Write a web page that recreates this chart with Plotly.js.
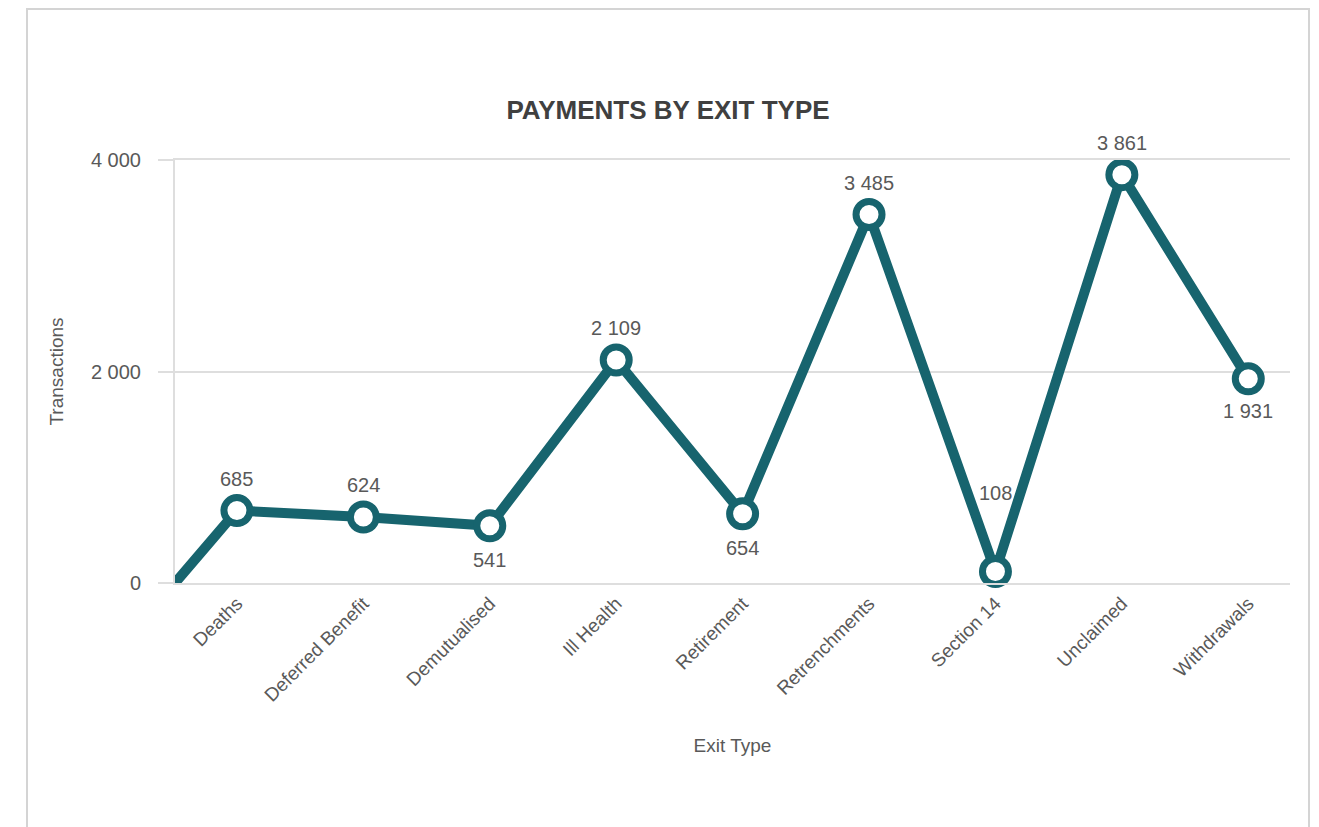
<!DOCTYPE html>
<html>
<head>
<meta charset="utf-8">
<script src="https://cdn.plot.ly/plotly-3.0.1.min.js"></script>
<style>
  html, body { margin: 0; padding: 0; background: #fff; overflow: hidden; }
  #frame { position: absolute; left: 26px; top: 8px; width: 1284px; height: 900px; border: 2px solid #d4d4d4; box-sizing: border-box; }
  #chart { position: absolute; left: 0; top: 0; width: 1319px; height: 827px; }
</style>
</head>
<body>
<div id="frame"></div>
<div id="chart"></div>
<script>
// ---- data ----
const categories = ["Deaths", "Deferred Benefit", "Demutualised", "Ill Health", "Retirement",
                    "Retrenchments", "Section 14", "Unclaimed", "Withdrawals"];
const transactions = [685, 624, 541, 2109, 654, 3485, 108, 3861, 1931];
const yTickValues = [0, 2000, 4000];
const chartTitle = "PAYMENTS BY EXIT TYPE";
const xTitle = "Exit Type";
const yTitle = "Transactions";

// ---- styles ----
const teal = "#17646e";
const labelShift = [32, 32, -34, 32, -34, 31, 79, 32, -32];
const xStart = -0.49, xEnd = 8.33;
const fontFam = "'Liberation Sans', Arial, sans-serif";
const textColor = "#595959";

const idx = categories.map((_, i) => i);
// line begins at the axis origin, as in the reference
const lineX = [xStart].concat(idx);
const lineY = [0].concat(transactions);

const traces = [
  {
    x: lineX, y: lineY, type: "scatter", mode: "lines",
    line: { color: teal, width: 10 }, cliponaxis: false, hoverinfo: "skip", showlegend: false
  },
  {
    x: idx, y: transactions, type: "scatter", mode: "markers",
    marker: { size: 26, color: "#ffffff", line: { color: teal, width: 7 } },
    cliponaxis: false, showlegend: false
  }
];

const fmt = v => v.toLocaleString("en-US").replace(/,/g, " ");
const annotations = idx.map(i => ({
  x: i, y: transactions[i], xref: "x", yref: "y",
  text: fmt(transactions[i]), showarrow: false,
  yshift: labelShift[i], yanchor: "middle",
  font: { family: fontFam, size: 20, color: textColor }
}));

const layout = {
  width: 1319, height: 827,
  paper_bgcolor: "rgba(0,0,0,0)", plot_bgcolor: "rgba(0,0,0,0)",
  separators: ". ",
  margin: { l: 175, r: 29, t: 160, b: 244 },
  title: {
    text: "<b>" + chartTitle + "</b>", x: 668/1319, xanchor: "center", y: 1 - 110/827, yanchor: "middle",
    xref: "container", yref: "container",
    font: { family: fontFam, size: 26, color: "#404040" }
  },
  xaxis: {
    range: [xStart, xEnd], tickvals: idx, ticktext: categories, tickangle: -45,
    showgrid: false, zeroline: false, showline: true, mirror: true,
    linecolor: "#dedede", linewidth: 2, ticks: "",
    tickfont: { family: fontFam, size: 19, color: textColor },
    title: { text: xTitle, standoff: 34, font: { family: fontFam, size: 19, color: textColor } }
  },
  yaxis: {
    range: [0, 4000], tickvals: yTickValues, tickformat: ",d",
    showgrid: true, gridcolor: "#dedede", gridwidth: 2,
    zeroline: false, showline: true, linecolor: "#dedede", linewidth: 2,
    ticks: "outside", ticklen: 15, tickwidth: 2, tickcolor: "#dedede",
    ticklabelstandoff: 13,
    tickfont: { family: fontFam, size: 20, color: textColor },
    title: { text: yTitle, standoff: 22, font: { family: fontFam, size: 19, color: textColor } }
  },
  annotations: annotations,
  showlegend: false
};

Plotly.newPlot("chart", traces, layout, { displayModeBar: false, staticPlot: true });
</script>
</body>
</html>
